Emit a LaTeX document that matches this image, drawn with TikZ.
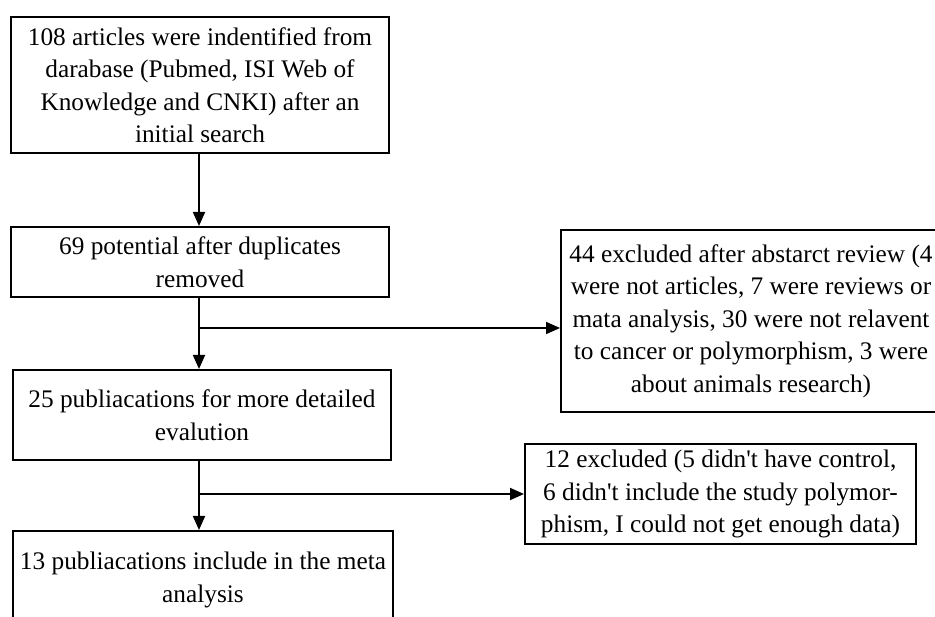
\documentclass[tikz,border=0pt]{standalone}
\usepackage{fontspec}
\setmainfont{Liberation Serif}
\usetikzlibrary{arrows.meta,calc}
\begin{document}
\begin{tikzpicture}[x=1pt,y=-1pt,
  box/.style={draw=black,line width=2pt,align=center,inner sep=0pt,
    font=\fontsize{25.3}{32.5}\selectfont},
  flow/.style={line width=1.8pt,-{Triangle[length=14pt,width=12pt]}}]
\useasboundingbox (0,0) rectangle (935,617);
\clip (0,0) rectangle (935,617);
\node[box,minimum width=378pt,minimum height=136pt] (b1) at (200,85)
  {108 articles were indentified from\\darabase (Pubmed, ISI Web of\\Knowledge and CNKI) after an\\initial search};
\node[box,minimum width=378pt,minimum height=70pt] (b2) at (200,262)
  {69 potential after duplicates\\removed};
\node[box,minimum width=380pt,minimum height=182pt] (b3) at (751,321)
  {44 excluded after abstarct review (4\\were not articles, 7 were reviews or\\mata analysis, 30 were not relavent\\to cancer or polymorphism, 3 were\\about animals research)};
\node[box,minimum width=378pt,minimum height=90pt] (b4) at (202,415)
  {25 publiacations for more detailed\\evalution};
\node[box,minimum width=380pt,minimum height=98pt] (b5) at (203,580)
  {13 publiacations include in the meta\\analysis};
\node[box,minimum width=391pt,minimum height=100pt] (b6) at (720.5,494)
  {12 excluded (5 didn\textquotesingle t have control,\\6 didn\textquotesingle t include the study polymor-\\phism, I could not get enough data)};
\coordinate (j1) at (199,328);
\coordinate (j2) at (199,494);
\draw[flow] (b1.south -| j1) -- (b2.north -| j1);
\draw[flow] (b2.south -| j1) -- (b4.north -| j1);
\draw[flow] (j1) -- (j1 -| b3.west);
\draw[flow] (b4.south -| j2) -- (b5.north -| j2);
\draw[flow] (j2) -- (j2 -| b6.west);
\end{tikzpicture}
\end{document}
